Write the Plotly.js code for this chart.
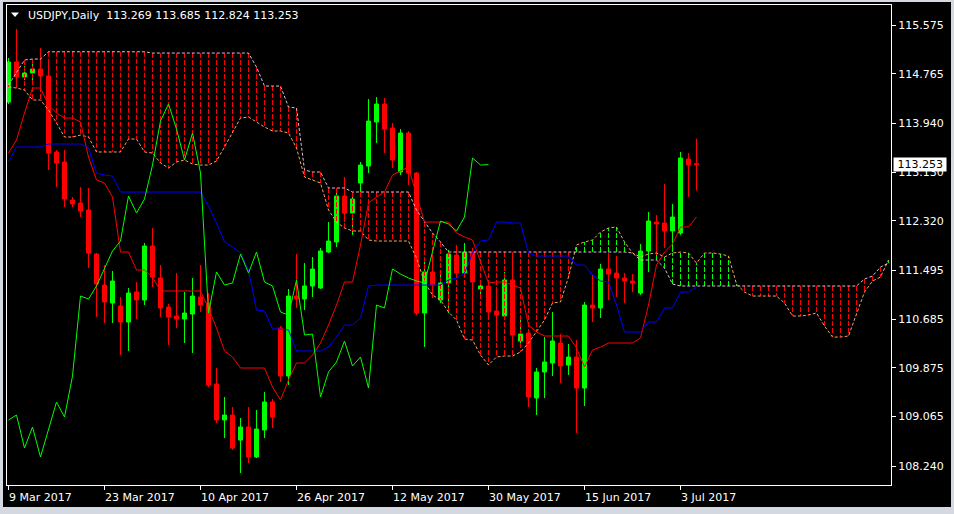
<!DOCTYPE html>
<html><head><meta charset="utf-8">
<script src="https://cdn.plot.ly/plotly-3.0.1.min.js"></script>
<style>
html,body{margin:0;padding:0;background:#d4d8e0;width:954px;height:514px;overflow:hidden;}
#chart{position:absolute;left:3px;top:2px;width:948px;height:505px;background:#000;}
</style></head><body><div id="chart"></div>
<script>
// ---- data (USDJPY, Daily, Ichimoku) ----
const symbolText = 'USDJPY,Daily';
const lastQuote = [113.269, 113.685, 112.824, 113.253]; // O H L C of last bar
const dateLabels = ['9 Mar 2017','23 Mar 2017','10 Apr 2017','26 Apr 2017','12 May 2017','30 May 2017','15 Jun 2017','3 Jul 2017'];
const labelBars = [0,12,24,36,48,60,72,84];
const yTicks = [108.240,109.065,109.875,110.685,111.495,112.320,113.130,113.940,114.765,115.575];

const open = [114.294,114.960,114.710,114.777,114.843,114.727,113.463,113.296,112.664,112.614,
112.498,111.766,111.250,110.951,110.901,110.635,111.134,111.001,111.899,111.367,
110.884,110.735,110.685,110.768,111.051,110.951,109.604,109.005,109.088,108.672,
108.889,108.390,108.839,109.304,110.535,109.737,111.067,111.018,111.234,111.200,
111.799,111.966,112.731,112.448,112.947,113.230,113.962,114.261,113.862,113.130,
113.779,113.113,110.785,111.467,111.001,111.284,111.749,111.450,111.799,111.184,
111.234,110.818,110.735,111.334,110.319,110.452,109.371,109.803,109.953,110.286,
109.920,110.053,109.537,110.918,110.868,111.517,111.450,111.367,111.317,111.117,
111.816,112.298,112.282,112.149,112.115,113.346,113.269];
const high = [115.026,115.508,114.893,114.943,115.192,114.943,113.496,113.496,112.714,112.881,
112.864,111.783,111.583,111.483,111.051,111.200,111.300,111.949,112.199,111.583,
110.934,111.450,111.134,111.367,111.583,111.117,109.870,109.388,109.221,109.038,
109.221,109.171,109.471,109.354,110.568,111.184,111.766,111.616,111.716,111.866,
112.298,112.864,113.047,112.797,113.296,114.344,114.377,114.361,113.945,113.845,
113.812,113.130,111.633,111.716,111.450,111.833,111.916,111.949,111.866,111.284,
111.284,111.217,111.467,111.716,110.668,110.502,109.870,110.385,110.801,110.435,
110.269,110.336,110.968,111.417,111.600,111.783,111.733,111.450,111.433,111.932,
112.465,112.415,112.930,112.598,113.463,113.446,113.685];
const low = [114.261,114.544,114.660,114.660,114.527,113.163,112.881,112.548,112.548,112.381,
111.533,110.718,110.618,110.618,110.086,110.153,110.685,110.918,111.217,110.718,
110.252,110.535,110.286,110.119,110.801,109.554,108.955,108.706,108.506,108.123,
108.290,108.373,108.706,108.872,109.637,109.587,110.868,110.835,111.051,111.184,
111.783,111.882,112.298,112.082,112.781,113.113,113.612,113.446,113.196,113.080,
112.914,110.751,110.219,111.034,110.951,110.785,111.417,111.367,110.868,111.051,
110.668,110.385,110.668,110.286,110.219,109.221,109.088,109.371,109.737,109.620,
109.753,108.789,109.238,110.635,110.702,111.001,111.051,110.951,111.134,111.084,
111.467,111.666,111.866,111.799,112.082,112.714,112.824];
const close = [114.960,114.710,114.777,114.843,114.727,113.446,113.280,112.681,112.598,112.481,
111.783,111.267,110.968,111.317,110.635,111.117,111.001,111.899,111.383,110.868,
110.718,110.685,110.785,111.067,110.918,109.587,109.005,109.088,108.539,108.889,
108.390,108.855,109.304,109.055,109.737,111.067,111.018,111.234,111.517,111.816,
111.982,112.731,112.448,112.681,113.246,113.978,114.261,113.845,113.330,113.779,
113.113,110.785,111.467,111.250,111.284,111.766,111.450,111.799,111.300,111.234,
110.801,110.751,111.334,110.419,110.435,109.388,109.803,109.970,110.319,109.903,
110.053,109.537,110.918,110.868,111.517,111.433,111.367,111.317,111.284,111.816,
112.315,112.265,112.149,112.381,113.363,113.246,113.253];

const tenkan = [113.446,113.662,114.111,114.527,114.527,114.244,114.111,114.028,114.028,113.962,
113.379,112.997,112.947,112.714,111.799,111.799,111.500,111.500,111.383,111.151,
111.151,111.151,111.151,111.151,111.151,110.868,110.535,110.153,110.053,109.870,
109.870,109.870,109.870,109.554,109.338,109.670,109.953,109.953,110.086,110.286,
110.585,110.918,111.300,111.300,111.916,112.614,112.714,112.797,113.080,113.147,
113.213,112.747,112.298,112.298,112.298,112.298,112.115,112.049,111.999,111.633,
111.284,111.300,111.300,111.250,111.200,110.585,110.469,110.402,110.402,110.402,
110.402,110.203,109.887,110.169,110.219,110.286,110.286,110.286,110.286,110.369,
110.918,111.583,111.799,111.932,112.215,112.215,112.381];
const kijun = [113.296,113.546,113.546,113.546,113.546,113.596,113.596,113.596,113.596,113.596,
113.529,113.113,113.080,113.063,112.797,112.797,112.797,112.797,112.797,112.797,
112.797,112.797,112.797,112.797,112.797,112.564,112.282,111.966,111.882,111.783,
111.500,110.835,110.818,110.519,110.519,110.502,110.153,110.153,110.153,110.153,
110.219,110.385,110.585,110.585,110.702,111.234,111.250,111.250,111.250,111.250,
111.250,111.250,111.250,111.250,111.250,111.334,111.367,111.450,111.783,111.982,
111.999,112.298,112.298,112.282,112.282,111.783,111.733,111.733,111.733,111.733,
111.733,111.583,111.583,111.417,111.317,111.300,110.918,110.469,110.469,110.469,
110.635,110.635,110.868,110.868,111.134,111.134,111.217];
const chikou = [109.005,109.088,108.539,108.889,108.390,108.855,109.304,109.055,109.737,111.067,
111.018,111.234,111.517,111.816,111.982,112.731,112.448,112.681,113.246,113.978,
114.261,113.845,113.330,113.779,113.113,110.785,111.467,111.250,111.284,111.766,
111.450,111.799,111.300,111.234,110.801,110.751,111.334,110.419,110.435,109.388,
109.803,109.970,110.319,109.903,110.053,109.537,110.918,110.868,111.517,111.433,
111.367,111.317,111.284,111.816,112.315,112.265,112.149,112.381,113.363,113.246,
113.253];
const spanA = [114.544,114.527,114.494,114.328,114.328,114.161,113.945,113.712,113.712,113.745,
113.712,113.463,113.463,113.463,113.463,113.679,113.679,113.463,113.446,113.280,
113.196,113.296,113.330,113.263,113.246,113.246,113.313,113.546,113.779,114.028,
114.045,113.962,113.878,113.812,113.812,113.779,113.529,113.047,112.997,112.947,
112.498,112.298,112.199,112.149,112.149,111.999,111.982,111.982,111.982,111.982,
111.982,111.700,111.300,111.084,111.001,110.801,110.668,110.352,110.336,110.086,
109.920,110.053,110.069,110.069,110.136,110.286,110.469,110.668,110.951,110.968,
111.383,111.916,111.966,111.999,112.132,112.199,112.215,111.966,111.783,111.716,
111.766,111.783,111.716,111.783,111.799,111.783,111.616,111.783,111.783,111.766,
111.733,111.267,111.134,111.067,111.067,111.067,111.067,110.951,110.735,110.735,
110.751,110.785,110.568,110.385,110.385,110.402,110.751,111.134,111.317,111.383,
111.666];
const spanB = [114.577,114.793,114.993,115.009,115.009,115.130,115.130,115.130,115.130,115.130,
115.130,115.130,115.130,115.130,115.130,115.130,115.130,115.130,115.109,115.109,
115.109,115.109,115.109,115.109,115.109,115.109,115.109,115.109,115.109,115.109,
115.109,114.876,114.560,114.560,114.560,114.211,114.194,113.163,113.130,113.130,
112.864,112.864,112.864,112.797,112.797,112.797,112.797,112.797,112.797,112.797,
112.797,112.498,112.298,112.115,111.966,111.799,111.799,111.799,111.799,111.799,
111.799,111.799,111.799,111.799,111.799,111.799,111.799,111.799,111.799,111.799,
111.799,111.799,111.799,111.799,111.799,111.799,111.799,111.799,111.783,111.666,
111.666,111.666,111.533,111.267,111.234,111.234,111.234,111.234,111.234,111.234,
111.234,111.234,111.234,111.234,111.234,111.234,111.234,111.234,111.234,111.234,
111.234,111.234,111.234,111.234,111.234,111.234,111.234,111.350,111.400,111.550,
111.616];

// ---- build traces ----
const idx = a => a.map((_, i) => i);
const FONT = 'DejaVu Sans';
const DASH = '5px,2px';

// cloud hatching: vertical dashed strokes between the two spans at every bar
const redX = [], redY = [], grnX = [], grnY = [];
for (let i = 0; i < spanA.length; i++) {
  const a = spanA[i], b = spanB[i];
  if (a === b) continue;
  const tx = b > a ? redX : grnX, ty = b > a ? redY : grnY;
  tx.push(i, i, null); ty.push(b, a, null);
}

const traces = [
  {type: 'candlestick', x: idx(open), open: open, high: high, low: low, close: close,
   increasing: {line: {color: '#00ff00', width: 1}, fillcolor: '#00ff00'},
   decreasing: {line: {color: '#ff0000', width: 1}, fillcolor: '#ff0000'},
   whiskerwidth: 0, hoverinfo: 'skip', showlegend: false},
  {type: 'scatter', mode: 'lines', x: redX, y: redY, connectgaps: false,
   line: {color: '#ff0000', width: 1, dash: DASH}, hoverinfo: 'skip', showlegend: false},
  {type: 'scatter', mode: 'lines', x: grnX, y: grnY, connectgaps: false,
   line: {color: '#00ff00', width: 1, dash: DASH}, hoverinfo: 'skip', showlegend: false},
  {type: 'scatter', mode: 'lines', x: idx(spanA), y: spanA,
   line: {color: '#f4a460', width: 1, dash: '3px,2px'}, hoverinfo: 'skip', showlegend: false},
  {type: 'scatter', mode: 'lines', x: idx(spanB), y: spanB,
   line: {color: '#d8bfd8', width: 1, dash: '3px,2px'}, hoverinfo: 'skip', showlegend: false},
  {type: 'scatter', mode: 'lines', x: idx(tenkan), y: tenkan,
   line: {color: '#ff0000', width: 1}, hoverinfo: 'skip', showlegend: false},
  {type: 'scatter', mode: 'lines', x: idx(kijun), y: kijun,
   line: {color: '#0000ff', width: 1}, hoverinfo: 'skip', showlegend: false},
  {type: 'scatter', mode: 'lines', x: idx(chikou), y: chikou,
   line: {color: '#00ff00', width: 1}, hoverinfo: 'skip', showlegend: false}
];

const annotations = dateLabels.map((t, k) => ({
  xref: 'x', yref: 'paper', x: labelBars[k], y: 0, yshift: -12, xshift: -1,
  xanchor: 'left', yanchor: 'middle', showarrow: false, text: t,
  font: {family: FONT, size: 11, color: '#ffffff'}, borderpad: 0
}));
annotations.push({
  xref: 'paper', yref: 'paper', x: 0.0226, y: 0.978, xanchor: 'left', yanchor: 'middle',
  showarrow: false, borderpad: 0,
  text: symbolText + '\u00a0\u00a0' + lastQuote.map(v => v.toFixed(3)).join(' '),
  font: {family: FONT, size: 11, color: '#ffffff'}
});
annotations.push({
  xref: 'paper', yref: 'y', x: 1, xshift: 2, y: lastQuote[3], xanchor: 'left', yanchor: 'middle',
  showarrow: false, borderpad: 0, bgcolor: '#ffffff',
  text: '\u00a0' + lastQuote[3].toFixed(3) + '\u00a0',
  font: {family: FONT, size: 11, color: '#000000'}
});

const layout = {
  width: 948, height: 505,
  margin: {l: 4, r: 60, t: 3, b: 22, pad: 0},
  paper_bgcolor: '#000000', plot_bgcolor: '#000000',
  showlegend: false, hovermode: false,
  boxgap: 0.3, boxgroupgap: 0.2857,
  font: {family: FONT, size: 11, color: '#ffffff'},
  xaxis: {range: [-0.1875, 110.3125], showgrid: false, zeroline: false,
    showline: true, linecolor: '#ffffff', linewidth: 1, mirror: true,
    ticks: 'outside', ticklen: 4, tickcolor: '#ffffff', tickwidth: 1,
    tickmode: 'array', tickvals: labelBars, showticklabels: false,
    rangeslider: {visible: false}, fixedrange: true},
  yaxis: {side: 'right', range: [107.924, 115.908], showgrid: false, zeroline: false,
    showline: true, linecolor: '#ffffff', linewidth: 1, mirror: true,
    ticks: 'outside', ticklen: 4, tickcolor: '#ffffff', tickwidth: 1,
    tickmode: 'array', tickvals: yTicks, tickformat: '.3f',
    tickfont: {family: FONT, size: 11, color: '#ffffff'}, fixedrange: true},
  shapes: [{type: 'path', xref: 'paper', yref: 'paper',
    path: 'M 0.004525 0.984375 L 0.013575 0.984375 L 0.00905 0.975 Z',
    fillcolor: '#ffffff', line: {width: 0}}],
  annotations: annotations
};

Plotly.newPlot('chart', traces, layout, {staticPlot: true, displayModeBar: false});
</script></body></html>
